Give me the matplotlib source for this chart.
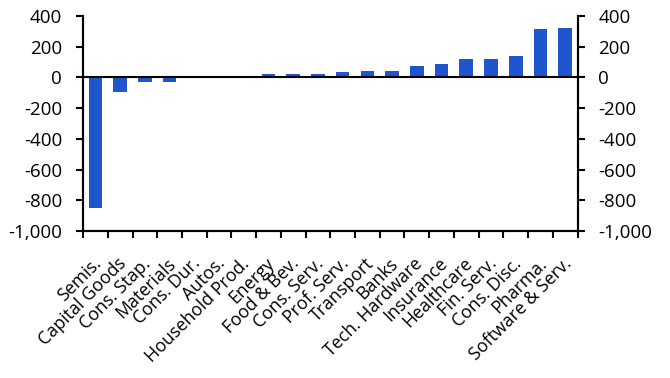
import matplotlib.pyplot as plt
from matplotlib.ticker import FuncFormatter
import matplotlib.transforms as mtransforms
import numpy as np

plt.rcParams['font.family'] = ['Open Sans', 'DejaVu Sans']

sectors = ['Semis.', 'Capital Goods', 'Cons. Stap.', 'Materials', 'Cons. Dur.', 'Autos.',
           'Household Prod.', 'Energy', 'Food & Bev.', 'Cons. Serv.', 'Prof. Serv.',
           'Transport', 'Banks', 'Tech. Hardware', 'Insurance', 'Healthcare',
           'Fin. Serv.', 'Cons. Disc.', 'Pharma.', 'Software & Serv.']
values = [-850, -97, -30, -32, -7, -5, 5, 20, 20, 20, 33, 44, 44, 74, 85, 117, 117, 139, 312, 323]

BAR_COLOR = '#1F56CE'
y_ticks = [-1000, -800, -600, -400, -200, 0, 200, 400]
XFS = 12.8
YFS = 13.5

fig = plt.figure(figsize=(6.7, 3.78), dpi=100)
ax = fig.add_axes([0.124, 0.389, 0.738, 0.569])

x = np.arange(len(values))
ax.bar(x, values, width=0.55, color=BAR_COLOR, zorder=2)
ax.axhline(0, color='black', lw=1.5, zorder=3)

ax.set_xlim(-0.5, len(values) - 0.5)
ax.set_ylim(-1000, 400)
ax.set_yticks(y_ticks)
fmt = FuncFormatter(lambda v, p: f'{int(v):,}')
ax.yaxis.set_major_formatter(fmt)

# labels on the bars, tick marks between them
ax.set_xticks(x)
ax.set_xticklabels(sectors, rotation=45, ha='right', va='top',
                   rotation_mode='anchor', fontsize=XFS)
ax.set_xticks(np.arange(-0.5, len(values), 1.0), minor=True)
ax.tick_params(axis='x', which='major', length=0, pad=17)
ax.tick_params(axis='x', which='minor', direction='out', length=5, width=1.5)
shift = mtransforms.ScaledTranslation(-3 / 100, 0, fig.dpi_scale_trans)
for lab in ax.get_xticklabels():
    lab.set_transform(lab.get_transform() + shift)

ax.tick_params(axis='y', direction='out', length=5, width=1.5, labelsize=YFS, pad=10)
for s in ['left', 'right', 'bottom']:
    ax.spines[s].set_linewidth(1.5)
ax.spines['top'].set_visible(False)

ax2 = ax.twinx()
ax2.set_ylim(ax.get_ylim())
ax2.set_yticks(y_ticks)
ax2.yaxis.set_major_formatter(fmt)
ax2.tick_params(axis='y', direction='out', length=5, width=1.5, labelsize=YFS, pad=10)
for s in ['left', 'right', 'bottom']:
    ax2.spines[s].set_linewidth(1.5)
ax2.spines['top'].set_visible(False)

fig.savefig('out.png', dpi=100)
